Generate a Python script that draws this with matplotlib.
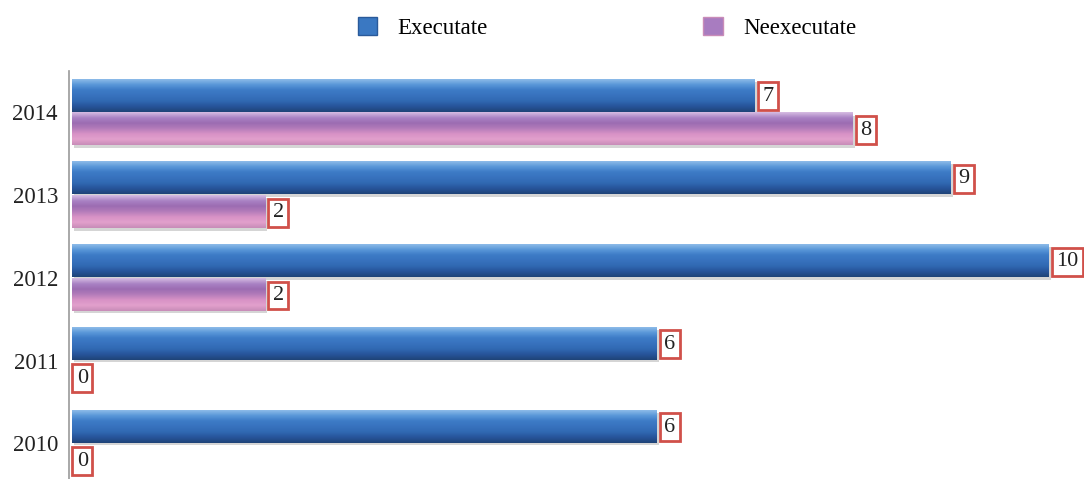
import matplotlib.pyplot as plt
import numpy as np
from matplotlib.colors import LinearSegmentedColormap
from matplotlib.patches import Patch

years = ['2010', '2011', '2012', '2013', '2014']
executate = [6, 6, 10, 9, 7]
neexecutate = [0, 0, 2, 2, 8]

plt.rcParams['font.family'] = ['Liberation Serif', 'DejaVu Serif']

# gradients, top to bottom of each bar
blue_cols = ['#8cbbe8', '#5896d8', '#3d7bc6', '#3872be', '#3069b2', '#27549a', '#1f4478']
pink_cols = ['#d6bce2', '#a982c4', '#9c6cb2', '#b47cba', '#d892c6', '#e2a0cc', '#c88cb8']
blue_cmap = LinearSegmentedColormap.from_list('b', blue_cols)
pink_cmap = LinearSegmentedColormap.from_list('p', pink_cols)

fig = plt.figure(figsize=(10.84, 4.79), dpi=100)
ax = fig.add_axes([69 / 1084, -0.012, 1015 / 1084, 0.8638])

h = 0.39
y = np.arange(len(years))
grad = np.linspace(0, 1, 64).reshape(-1, 1)
x0 = 0.03  # small gap between spine and bars


def gradient_bars(ypos, vals, cmap, label):
    vals = np.array(vals, dtype=float)
    widths = np.clip(vals - x0, 0, None)
    # shadow
    ax.barh(ypos - 0.03, widths, height=h, left=x0 + 0.02, color='#888888',
            alpha=0.35, linewidth=0, zorder=1)
    bars = ax.barh(ypos, widths, height=h, left=x0, color=cmap(0.5),
                   linewidth=0, zorder=2, label=label)
    for b, v in zip(bars, vals):
        if v <= 0:
            continue
        y0 = b.get_y()
        ax.imshow(grad, cmap=cmap, aspect='auto', zorder=3,
                  extent=(x0, v, y0, y0 + h), origin='upper',
                  interpolation='bilinear')
    for yy, v in zip(ypos, vals):
        ax.annotate(str(int(v)), xy=(v, yy), xytext=(5.5, -0.5),
                    textcoords='offset points', va='center', ha='left',
                    fontsize=16, color='#222222', zorder=5,
                    bbox=dict(boxstyle='square,pad=0.2', fc='white',
                              ec='#d0504a', lw=2))


gradient_bars(y + h / 2 + 0.01, executate, blue_cmap, 'Executate')
gradient_bars(y - h / 2 - 0.01, neexecutate, pink_cmap, 'Neexecutate')

ax.set_xlim(0, 10.36)
ax.set_ylim(-0.5, 4.5)
ax.set_yticks(y)
ax.set_yticklabels(years, fontsize=16.5, color='#222222')
ax.set_xticks([])
ax.tick_params(axis='y', length=0, pad=8)
for s in ['top', 'right', 'bottom']:
    ax.spines[s].set_visible(False)
ax.spines['left'].set_color('#999999')
ax.spines['left'].set_linewidth(1.2)

handles = [Patch(facecolor='#3a78c2', edgecolor='#2a5a9a'),
           Patch(facecolor='#a87cc0', edgecolor='#c98cb8')]
fig.legend(handles, ['Executate', 'Neexecutate'], loc='center',
           bbox_to_anchor=(0.56, 0.942), ncol=2, frameon=False,
           fontsize=16.5, handlelength=0.85, handleheight=0.85,
           columnspacing=9.4, handletextpad=0.9)

fig.savefig('out.png', dpi=100)
